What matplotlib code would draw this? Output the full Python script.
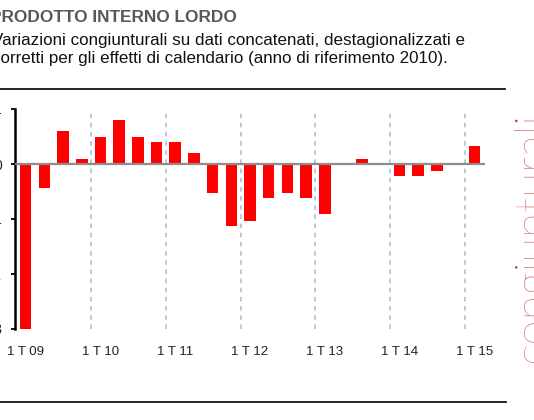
import numpy as np
import matplotlib.pyplot as plt
from matplotlib.lines import Line2D

quarters = ["1T09", "2T09", "3T09", "4T09",
            "1T10", "2T10", "3T10", "4T10",
            "1T11", "2T11", "3T11", "4T11",
            "1T12", "2T12", "3T12", "4T12",
            "1T13", "2T13", "3T13", "4T13",
            "1T14", "2T14", "3T14", "4T14",
            "1T15"]
pil_qoq = [-3.0, -0.43, 0.6, 0.1,
           0.5, 0.8, 0.5, 0.4,
           0.4, 0.2, -0.52, -1.12,
           -1.03, -0.62, -0.52, -0.62,
           -0.91, 0.0, 0.1, 0.0,
           -0.22, -0.22, -0.12, 0.0,
           0.32]
year_labels = ["1 T 09", "1 T 10", "1 T 11", "1 T 12", "1 T 13", "1 T 14", "1 T 15"]

W, H = 534, 420
plt.rcParams['font.family'] = ['Liberation Sans', 'DejaVu Sans']
fig = plt.figure(figsize=(W / 100, H / 100), dpi=100)

# axes box in pixels: x 15..485, y 109..329
ax = fig.add_axes([15 / W, 1 - 329 / H, 470 / W, 220 / H])
x = np.arange(len(quarters))
ax.bar(x, pil_qoq, width=0.62, color="#ff0000", zorder=3)
ax.axhline(0, color="#8c8c8c", lw=1.6, zorder=4)
for k in range(4, len(quarters), 4):
    ax.axvline(k - 0.5, color="#a9bad0", lw=1.1, ls=(0, (3, 3)), zorder=1)

ax.set_xlim(-0.57, len(quarters) - 0.43)
ax.set_ylim(-3, 1)
ax.set_yticks([-3, -2, -1, 0, 1])
ax.set_xticks(x[::4])
ax.set_xticklabels(year_labels)
ax.tick_params(axis="x", length=0, pad=12, labelsize=9.5, labelcolor="#222222")
ax.tick_params(axis="y", length=3, width=1.3, pad=6.5, labelsize=10, labelcolor="#222222")
for s in ["top", "right", "bottom"]:
    ax.spines[s].set_visible(False)
ax.spines["left"].set_linewidth(1.8)

def px(xp, yp):
    return xp / W, 1 - yp / H

fig.text(*px(-9.5, 22), "PRODOTTO INTERNO LORDO", fontsize=12.4, fontweight="bold",
         color="#585858", va="baseline", ha="left")
fig.text(*px(-8.5, 45.5), "Variazioni congiunturali su dati concatenati, destagionalizzati e",
         fontsize=12.25, color="#111111", va="baseline", ha="left")
fig.text(*px(-7.5, 63.5), "corretti per gli effetti di calendario (anno di riferimento 2010).",
         fontsize=12.25, color="#111111", va="baseline", ha="left")

fig.add_artist(Line2D([0, 505 / W], [1 - 89 / H] * 2, color="black", lw=1.2))
fig.add_artist(Line2D([0, 506 / W], [1 - 402 / H] * 2, color="black", lw=1.2))

fig.text(*px(545, 363), "congiunturali", rotation=90, rotation_mode="anchor",
         ha="left", va="baseline", fontsize=33, color="#c8323a",
         family=["Lato", "DejaVu Sans"], fontweight="light")

fig.savefig("out.png", dpi=100)
